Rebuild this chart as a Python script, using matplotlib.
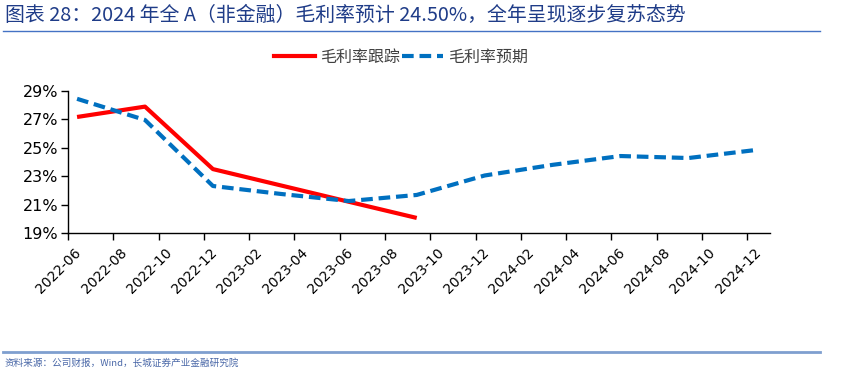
import matplotlib.pyplot as plt
from matplotlib.lines import Line2D

plt.rcParams['font.family'] = ['DejaVu Sans', 'Noto Sans CJK SC']

# months counted from 2022-06; quarterly report points
months = [0.4, 3.4, 6.4, 9.4, 12.4, 15.4, 18.4, 21.4, 24.4, 27.4, 30.4]
track = [27.17, 27.9, 23.5, 22.35, 21.2, 20.06]          # 毛利率跟踪
forecast = [28.45, 26.96, 22.31, 21.75, 21.25, 21.68,
            23.05, 23.8, 24.42, 24.28, 24.85]             # 毛利率预期
tick_months = list(range(0, 31, 2))
tick_labels = ['2022-06', '2022-08', '2022-10', '2022-12', '2023-02', '2023-04',
               '2023-06', '2023-08', '2023-10', '2023-12', '2024-02', '2024-04',
               '2024-06', '2024-08', '2024-10', '2024-12']
y_ticks = [19, 21, 23, 25, 27, 29]

red = '#FF0000'
blue = '#0070C0'
cjk = ['Noto Sans CJK SC', 'DejaVu Sans']

fig = plt.figure(figsize=(8.59, 3.88), dpi=100)
ax = fig.add_axes([68 / 859, 1 - 233 / 388, (770 - 68) / 859, (233 - 91) / 388])

ax.plot(months[:len(track)], track, color=red, lw=3, solid_capstyle='butt')
ax.plot(months, forecast, color=blue, lw=3, dashes=(2.8, 1.4),
        dash_capstyle='butt')

ax.set_xlim(0, 31)
ax.set_ylim(19, 29)
ax.set_yticks(y_ticks)
ax.set_yticklabels([f'{v}%' for v in y_ticks], fontsize=11.5)

# tick marks on the month, labels nudged a little to the right (as in Excel)
ax.set_xticks(tick_months)
ax.set_xticklabels([])
ax.set_xticks([m + 0.27 for m in tick_months], minor=True)
ax.set_xticklabels(tick_labels, minor=True, fontsize=10)
for lab in ax.get_xticklabels(minor=True):
    lab.set_rotation(45)
    lab.set_ha('right')
    lab.set_va('top')
    lab.set_rotation_mode('anchor')

for s in ['top', 'right']:
    ax.spines[s].set_visible(False)
for s in ['left', 'bottom']:
    ax.spines[s].set_color('black')
    ax.spines[s].set_linewidth(1.0)
ax.tick_params(axis='both', direction='out', length=5, width=1, colors='black', pad=2)
ax.tick_params(axis='x', which='minor', length=0, pad=9)

handles = [Line2D([], [], color=red, lw=3),
           Line2D([], [], color=blue, lw=3, dashes=(2.8, 1.4))]
fig.legend(handles, ['毛利率跟踪', '毛利率预期'], loc='center', ncol=2,
           bbox_to_anchor=(401 / 859, 1 - 57 / 388), frameon=False,
           handlelength=2.6, handletextpad=0.3, columnspacing=0.1,
           labelcolor='#404040', prop={'family': cjk, 'size': 11.5})

fig.text(5 / 859, 1 - 15 / 388,
         '图表 28：2024 年全 A（非金融）毛利率预计 24.50%，全年呈现逐步复苏态势',
         fontsize=14.3, color='#1F3C88', va='center', ha='left', family=cjk)
fig.add_artist(Line2D([3 / 859, 820 / 859], [1 - 31 / 388] * 2, color='#4472C4', lw=1.0))
fig.add_artist(Line2D([3 / 859, 820 / 859], [1 - 352 / 388] * 2, color='#7F9FCF', lw=2.0))
fig.text(5 / 859, 1 - 363 / 388, '资料来源：公司财报，Wind，长城证券产业金融研究院',
         fontsize=6.9, color='#4A68A8', va='center', ha='left', family=cjk)

fig.savefig('out.png', dpi=100)
